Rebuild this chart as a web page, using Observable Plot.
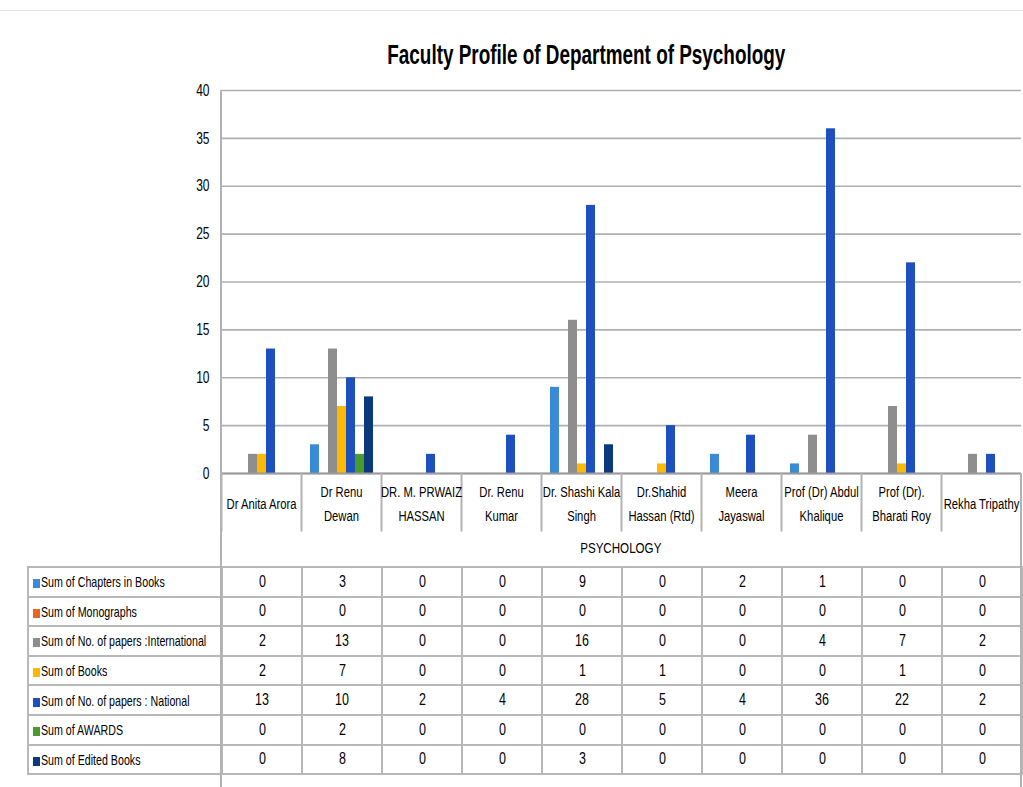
<!DOCTYPE html>
<html>
<head>
<meta charset="utf-8">
<script src="https://cdn.jsdelivr.net/npm/d3@7"></script>
<script src="https://cdn.jsdelivr.net/npm/@observablehq/plot@0.6"></script>
<style>
  html, body { margin: 0; padding: 0; background: #fff; }
  #root { position: relative; width: 1023px; height: 787px; overflow: hidden;
          font-family: "Liberation Sans", Arial, sans-serif; color: #000; }
  #topline { position: absolute; left: 0; top: 10px; width: 1023px; height: 1px; background: #e4e4e4; }
  #titlewrap { position: absolute; left: 0; width: 1172px; top: 40px; text-align: center; }
  #title { display: inline-block; font-size: 27px; font-weight: bold; transform: scaleX(0.7); transform-origin: center; }
  #chart { position: absolute; left: 0; top: 0; }
  .vline { position: absolute; width: 2px; background: #b2b2b2; }
  #group { position: absolute; left: 221px; top: 530px; width: 800px; height: 36px; line-height: 36px;
           text-align: center; font-size: 14.5px; }
  #group span { display: inline-block; transform: scaleX(0.8); }
  table { position: absolute; left: 27px; top: 566px; width: 996px; border-collapse: collapse; table-layout: fixed; font-size: 16px; }
  td { border: 2px solid #b8b8b8; height: 27.6px; padding: 0; text-align: center; }
  td span.v { display: inline-block; transform: scaleX(0.78); }
  td.head { text-align: left; padding-left: 4px; white-space: nowrap; font-size: 15px; }
  td.head span.t { display: inline-block; transform: scaleX(0.71); transform-origin: left center; }
  .key { display: inline-block; width: 7px; height: 9px; margin-right: 1px; vertical-align: -1px; }
</style>
</head>
<body>
<div id="root">
  <div id="topline"></div>
  <div id="titlewrap"><span id="title"></span></div>
  <div id="chart"></div>
  <div id="group"><span></span></div>
  <table id="tbl"></table>
</div>
<script>
const title = "Faculty Profile of Department of Psychology";
const groupLabel = "PSYCHOLOGY";
const categories = ["Dr Anita Arora", "Dr Renu Dewan", "DR. M. PRWAIZ HASSAN", "Dr. Renu Kumar",
  "Dr. Shashi Kala Singh", "Dr.Shahid Hassan (Rtd)", "Meera Jayaswal", "Prof (Dr) Abdul Khalique",
  "Prof (Dr). Bharati Roy", "Rekha Tripathy"];
const categoryLabels = ["Dr Anita Arora", "Dr Renu\nDewan", "DR. M. PRWAIZ\nHASSAN", "Dr. Renu\nKumar",
  "Dr. Shashi Kala\nSingh", "Dr.Shahid\nHassan (Rtd)", "Meera\nJayaswal", "Prof (Dr) Abdul\nKhalique",
  "Prof (Dr).\nBharati Roy", "Rekha Tripathy"];
const series = ["Sum of Chapters in Books", "Sum of Monographs", "Sum of No. of papers :International",
  "Sum of Books", "Sum of No. of papers : National", "Sum of AWARDS", "Sum of Edited Books"];
const chapters      = [0, 3, 0, 0, 9, 0, 2, 1, 0, 0];
const monographs    = [0, 0, 0, 0, 0, 0, 0, 0, 0, 0];
const international = [2, 13, 0, 0, 16, 0, 0, 4, 7, 2];
const books         = [2, 7, 0, 0, 1, 1, 0, 0, 1, 0];
const national      = [13, 10, 2, 4, 28, 5, 4, 36, 22, 2];
const awards        = [0, 2, 0, 0, 0, 0, 0, 0, 0, 0];
const editedBooks   = [0, 8, 0, 0, 3, 0, 0, 0, 0, 0];
const yTicks = [0, 5, 10, 15, 20, 25, 30, 35, 40];
const colors = ["#3a8ad6", "#e8661c", "#8e8e8e", "#ffb900", "#1e4fbf", "#4b9a2c", "#0b3a7c"];

const seriesValues = [chapters, monographs, international, books, national, awards, editedBooks];
const data = [];
categories.forEach((c, i) => series.forEach((s, j) => data.push({category: c, series: s, value: seriesValues[j][i]})));

document.getElementById("title").textContent = title;
document.querySelector("#group span").textContent = groupLabel;

const chart = Plot.plot({
  width: 1023,
  height: 566,
  marginTop: 90,
  marginBottom: 93,
  marginLeft: 221,
  marginRight: 2,
  style: {fontFamily: '"Liberation Sans", Arial, sans-serif', fontSize: "14px", color: "#000", background: "transparent"},
  fx: {domain: categories, padding: 0, axis: null},
  x: {domain: series, paddingInner: 0, paddingOuter: 0.68, axis: null},
  y: {domain: [0, 40], axis: null, label: null},
  color: {domain: series, range: colors},
  marks: [
    Plot.gridY(yTicks, {stroke: "#b0b0b0", strokeOpacity: 1, strokeWidth: 1.6}),
    Plot.axisY(yTicks, {tickSize: 0, tickPadding: 12, fontSize: 16, label: null, className: "yax"}),
    Plot.barY(data.filter(d => d.value > 0), {fx: "category", x: "series", y: "value", fill: "series"}),
    Plot.ruleY([0], {stroke: "#9a9a9a", strokeWidth: 2}),
    Plot.frame({anchor: "left", insetTop: 383, insetBottom: -57, stroke: "#b2b2b2", strokeWidth: 2}),
    Plot.text(categories, {fx: d => d, text: d => categoryLabels[categories.indexOf(d)],
      frameAnchor: "bottom", dy: 28, lineAnchor: "middle", lineHeight: 1.55, fontSize: 15, className: "catlab"})
  ]
});
document.getElementById("chart").appendChild(chart);

// narrow the svg texts horizontally around their anchor point
function squeeze(t, s) {
  const x = parseFloat(t.getAttribute("x")) || 0;
  const tr = t.getAttribute("transform") || "";
  t.setAttribute("transform", `${tr} translate(${x},0) scale(${s},1) translate(${-x},0)`);
}
chart.querySelectorAll(".catlab text").forEach(t => squeeze(t, 0.75));
chart.querySelectorAll(".yax text").forEach(t => squeeze(t, 0.75));

// structural border lines
const root = document.getElementById("root");
function vline(x, y1, y2) {
  const d = document.createElement("div");
  d.className = "vline";
  d.style.left = (x - 1) + "px"; d.style.top = y1 + "px"; d.style.height = (y2 - y1) + "px";
  root.appendChild(d);
}
vline(221, 90, 787);
vline(1021, 473, 787);

// data table
const tbl = document.getElementById("tbl");
const colgroup = document.createElement("colgroup");
[194, ...categories.map(() => 80)].forEach(w => { const c = document.createElement("col"); c.style.width = w + "px"; colgroup.appendChild(c); });
tbl.appendChild(colgroup);
series.forEach((s, j) => {
  const tr = document.createElement("tr");
  const th = document.createElement("td");
  th.className = "head";
  const key = document.createElement("span");
  key.className = "key"; key.style.background = colors[j];
  th.appendChild(key);
  const t = document.createElement("span");
  t.className = "t"; t.textContent = s;
  th.appendChild(t);
  tr.appendChild(th);
  seriesValues[j].forEach(v => {
    const td = document.createElement("td");
    const sp = document.createElement("span"); sp.className = "v"; sp.textContent = v;
    td.appendChild(sp); tr.appendChild(td);
  });
  tbl.appendChild(tr);
});
</script>
</body>
</html>
